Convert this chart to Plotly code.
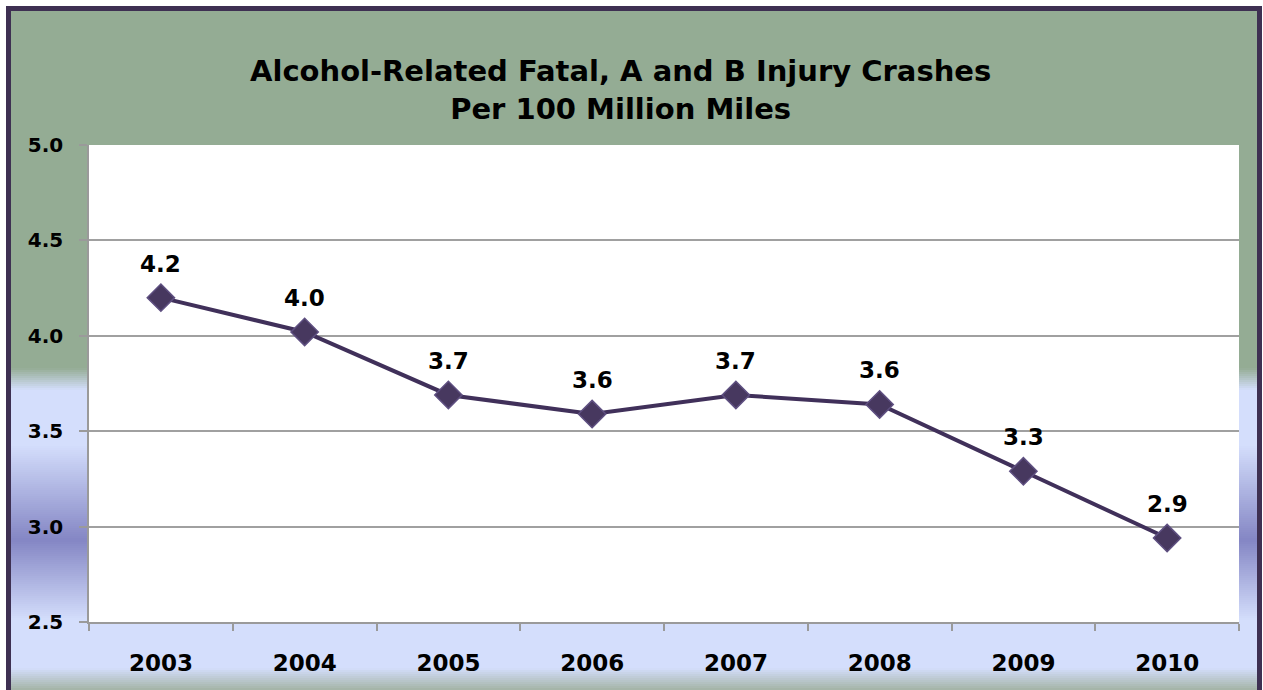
import plotly.graph_objects as go

# ---- data ----
years = ["2003", "2004", "2005", "2006", "2007", "2008", "2009", "2010"]
rates = [4.20, 4.02, 3.69, 3.59, 3.69, 3.64, 3.29, 2.94]
rate_labels = [f"{v:.1f}" for v in rates]
y_tick_vals = [2.5, 3.0, 3.5, 4.0, 4.5, 5.0]
y_tick_text = [f"{v:.1f}" for v in y_tick_vals]
title_lines = ["Alcohol-Related Fatal, A and B Injury Crashes", "Per 100 Million Miles"]

# ---- layout geometry (pixels) ----
W, H = 1263, 690
L, R, T, B = 89, 1239, 145, 622
FONT = "DejaVu Sans, Verdana, sans-serif"


def px_x(px):
    return (px - L) / (R - L)


def px_y(py):
    return (B - py) / (B - T)


def hex2rgb(h):
    h = h.lstrip("#")
    return tuple(int(h[i:i + 2], 16) for i in (0, 2, 4))


# background colour stops (pixel y, colour)
GREEN = "#94AC94"
LBLUE = "#D4DEFC"
PURPLE = "#8486C4"
BOTTOM = "#A3B3A5"
stops = [(368, GREEN), (390, LBLUE), (445, LBLUE), (540, PURPLE),
         (620, LBLUE), (668, LBLUE), (690, BOTTOM)]


def color_at(py):
    for (y0, c0), (y1, c1) in zip(stops[:-1], stops[1:]):
        if y0 <= py <= y1:
            t = (py - y0) / (y1 - y0) if y1 > y0 else 0
            a, b = hex2rgb(c0), hex2rgb(c1)
            return "rgb(%d,%d,%d)" % tuple(round(a[i] + (b[i] - a[i]) * t) for i in range(3))
    return stops[-1][1]


shapes = []
# solid green top part
shapes.append(dict(type="rect", xref="paper", yref="paper", layer="below",
                   x0=px_x(10), x1=px_x(1258), y0=px_y(368), y1=px_y(9),
                   fillcolor=GREEN, line=dict(width=0)))
step = 2
for py in range(368, 692, step):
    shapes.append(dict(type="rect", xref="paper", yref="paper", layer="below",
                       x0=px_x(10), x1=px_x(1258), y0=px_y(py + step + 0.5), y1=px_y(py),
                       fillcolor=color_at(py + step / 2), line=dict(width=0)))
# white plot area
shapes.append(dict(type="rect", xref="paper", yref="paper", layer="below",
                   x0=0, x1=1, y0=0, y1=1, fillcolor="white", line=dict(width=0)))
# outer border
shapes.append(dict(type="rect", xref="paper", yref="paper", layer="below",
                   x0=px_x(8.5), x1=px_x(1259.5), y0=px_y(720), y1=px_y(8.5),
                   fillcolor="rgba(0,0,0,0)", line=dict(color="#3E3052", width=5)))

fig = go.Figure()
fig.add_trace(go.Scatter(
    x=years, y=rates, mode="lines+markers",
    line=dict(color="#40305A", width=4),
    marker=dict(symbol="diamond", size=21, color="#47385F",
                line=dict(color="#5E4F80", width=1.5)),
    hoverinfo="x+y", showlegend=False,
))

annotations = []
for i, (v, lab) in enumerate(zip(rates, rate_labels)):
    annotations.append(dict(x=i, y=v, xref="x", yref="y", text=lab, showarrow=False,
                            yshift=34, xanchor="center", yanchor="middle",
                            font=dict(family=FONT, size=23, color="black", weight="bold")))
annotations.append(dict(xref="paper", yref="paper", x=px_x(620), y=px_y(90),
                        text="<br>".join(title_lines), showarrow=False,
                        xanchor="center", yanchor="middle",
                        font=dict(family=FONT, size=29, color="black", weight="bold")))

fig.update_layout(
    width=W, height=H,
    margin=dict(l=L, r=W - R, t=T, b=H - B, pad=0),
    paper_bgcolor="white", plot_bgcolor="white",
    shapes=shapes, annotations=annotations,
    xaxis=dict(type="category", range=[-0.5, 7.5], showgrid=False,
               showline=True, linecolor="#9A9A9A", linewidth=1.5,
               ticks="outside", tickson="boundaries", ticklen=7, tickcolor="#9A9A9A",
               tickwidth=1.5, ticklabelstandoff=20,
               tickfont=dict(family=FONT, size=23, color="black", weight="bold")),
    yaxis=dict(range=[2.5, 5.0], tickvals=y_tick_vals, ticktext=y_tick_text,
               showgrid=True, gridcolor="#A0A0A0", gridwidth=1.5, zeroline=False,
               showline=True, linecolor="#9A9A9A", linewidth=1.5,
               ticks="outside", ticklen=8, tickcolor="#9A9A9A", tickwidth=1.5,
               ticklabelstandoff=12,
               tickfont=dict(family=FONT, size=20, color="black", weight="bold")),
)

fig.write_html("out.html", config={"displayModeBar": False},
               post_script="document.body.style.margin='0';document.body.style.overflow='hidden';")
